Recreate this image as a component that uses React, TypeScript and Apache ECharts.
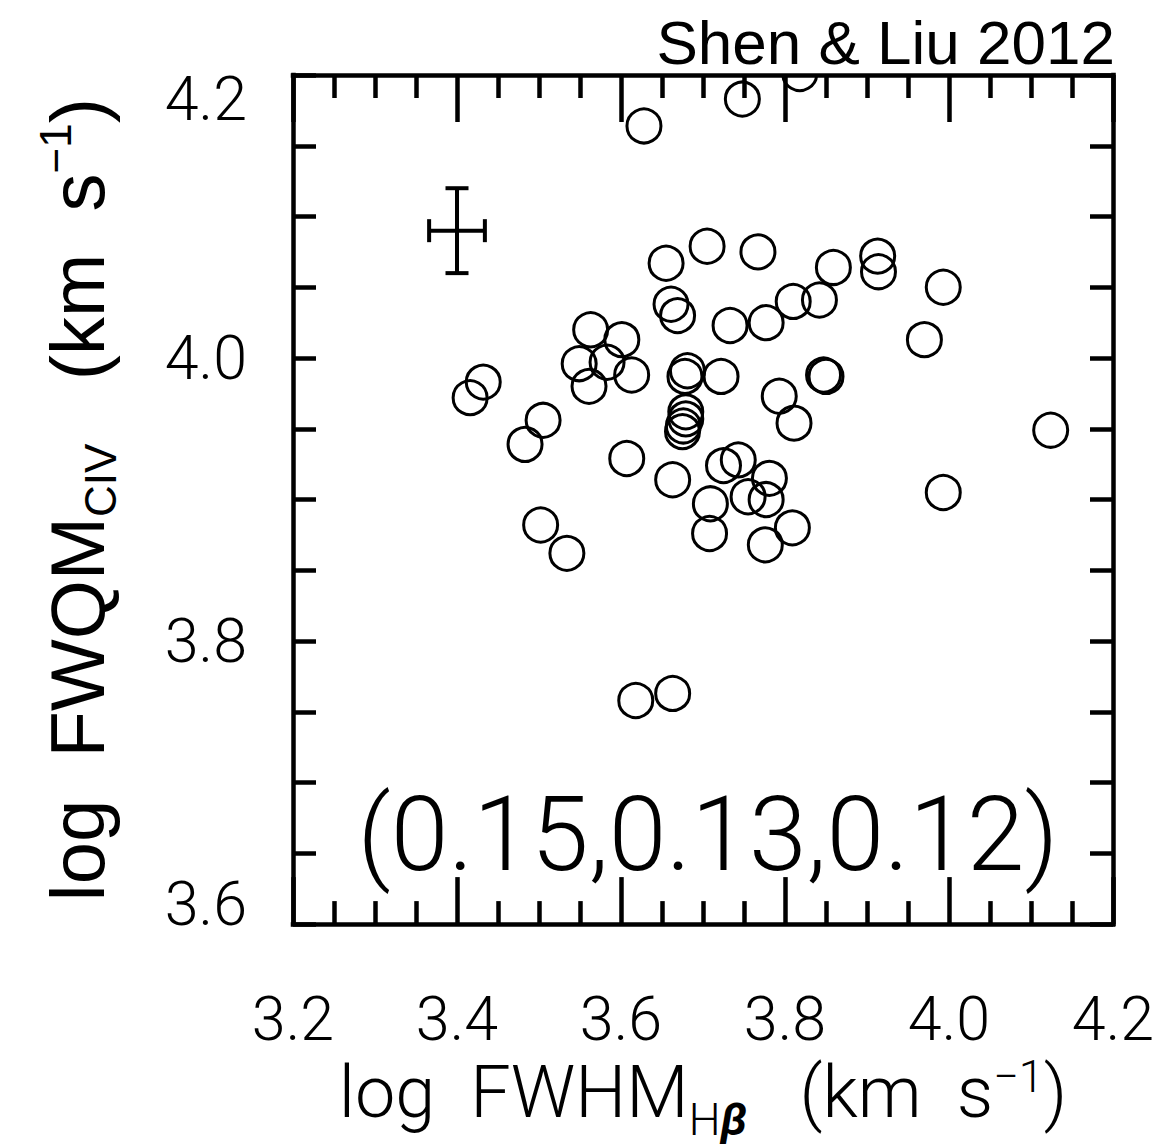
import React, { useEffect, useRef } from 'react';
import * as echarts from 'echarts';

// log FWHM(Hβ) [km/s] for each quasar
const logFwhmHb = [
  3.628, 3.748, 3.818, 3.655, 3.705, 3.767, 3.859, 3.913, 3.914, 3.993,
  3.970, 3.810, 3.842, 3.661, 3.669, 3.733, 3.777, 3.563, 3.601, 3.549,
  3.583, 3.561, 3.613, 3.432, 3.416, 3.505, 3.483, 3.681, 3.678, 3.722,
  3.847, 3.850, 3.793, 3.811, 3.679, 3.679, 3.676, 3.675, 3.607, 3.663,
  3.725, 3.743, 3.781, 3.755, 3.777, 3.709, 3.708, 3.809, 3.776, 3.993,
  4.124, 3.502, 3.534, 3.618, 3.663,
];

// log FWQM(CIV) [km/s] for the same objects
const logFwqmCiv = [
  4.164, 4.183, 4.201, 4.067, 4.079, 4.075, 4.064, 4.072, 4.061, 4.050,
  4.013, 4.040, 4.041, 4.038, 4.030, 4.023, 4.025, 4.020, 4.013, 3.996,
  3.997, 3.980, 3.988, 3.983, 3.972, 3.956, 3.939, 3.991, 3.987, 3.987,
  3.988, 3.987, 3.973, 3.954, 3.962, 3.957, 3.952, 3.948, 3.929, 3.914,
  3.924, 3.928, 3.915, 3.902, 3.900, 3.897, 3.876, 3.880, 3.868, 3.905,
  3.949, 3.882, 3.862, 3.758, 3.763,
];

// typical measurement uncertainty, shown as a cross
const errorBarCenter = [3.4, 4.09];
const errorBarHalf = [0.034, 0.03];

const xRange = [3.2, 4.2];
const yRange = [3.6, 4.2];
const majorStep = 0.2;

const panelTitle = 'Shen & Liu 2012';
const statsNote = '(0.15,0.13,0.12)';

const SANS = '"Liberation Sans", Arial, Helvetica, sans-serif';
const THIN = 'Roboto, "Liberation Sans", sans-serif';
const INK = '#000';

function frameAxis(position: string, majorLen: number, minorLen: number, range: number[]) {
  return {
    type: 'value',
    position,
    min: range[0],
    max: range[1],
    interval: majorStep,
    axisLine: { show: true, onZero: false, lineStyle: { color: INK, width: 4.5, cap: 'square' } },
    axisTick: { show: true, inside: true, length: majorLen, lineStyle: { color: INK, width: 4.5 } },
    minorTick: { show: true, splitNumber: 4, length: minorLen, lineStyle: { color: INK, width: 4.5 } },
    splitLine: { show: false },
    minorSplitLine: { show: false },
    axisLabel: { show: false },
  } as any;
}

export default function App() {
  const ref = useRef<HTMLDivElement>(null);

  useEffect(() => {
    if (!ref.current) return;
    const chart = echarts.init(ref.current, undefined, { renderer: 'svg' });

    const points = logFwhmHb.map((x, i) => [x, logFwqmCiv[i]]);

    const xBottom = frameAxis('bottom', 47, 23, xRange);
    xBottom.axisLabel = {
      show: true,
      showMinLabel: true,
      showMaxLabel: true,
      margin: 64,
      color: INK,
      fontFamily: THIN,
      fontWeight: 300,
      fontSize: 61,
      formatter: (v: number) => v.toFixed(1),
    };
    xBottom.name = '{m|log  FWHM}{sub|H}{subb|β}{m|   (km  s}{sup|−1}{m|)}';
    xBottom.nameLocation = 'middle';
    xBottom.nameGap = 103;
    xBottom.nameTextStyle = {
      color: INK,
      fontFamily: THIN,
      fontWeight: 300,
      fontSize: 72,
      rich: {
        m: { fontFamily: THIN, fontWeight: 300, fontSize: 72, lineHeight: 130, color: INK },
        sub: { fontFamily: THIN, fontWeight: 300, fontSize: 45, padding: [54, 0, 0, 0], color: INK },
        subb: { fontFamily: THIN, fontWeight: 'bold', fontStyle: 'italic', fontSize: 45, padding: [54, 0, 0, 0], color: INK },
        sup: { fontFamily: THIN, fontWeight: 300, fontSize: 45, padding: [0, 0, 32, 0], color: INK },
      },
    };

    const xTop = frameAxis('top', 47, 23, xRange);

    const yLeft = frameAxis('left', 23, 23, yRange);
    yLeft.axisLabel = {
      show: true,
      showMinLabel: true,
      showMaxLabel: true,
      margin: 46,
      color: INK,
      fontFamily: THIN,
      fontWeight: 300,
      fontSize: 61,
      formatter: (v: number) => {
        const s = v.toFixed(1);
        if (Math.abs(v - yRange[1]) < 1e-9) return `{hi|${s}}`;
        if (Math.abs(v - yRange[0]) < 1e-9) return `{lo|${s}}`;
        return `{n|${s}}`;
      },
      rich: {
        n: { fontFamily: THIN, fontWeight: 300, fontSize: 61, color: INK },
        hi: { fontFamily: THIN, fontWeight: 300, fontSize: 61, color: INK, padding: [48, 0, 0, 0] },
        lo: { fontFamily: THIN, fontWeight: 300, fontSize: 61, color: INK, padding: [0, 0, 40, 0] },
      },
    };
    yLeft.name = '{m|log  FWQM}{sub|CIV}{m|   (km  s}{sup|−1}{m|)}';
    yLeft.nameLocation = 'middle';
    yLeft.nameRotate = 90;
    yLeft.nameGap = 151;
    yLeft.nameTextStyle = {
      color: INK,
      fontFamily: SANS,
      fontSize: 76,
      rich: {
        m: { fontFamily: SANS, fontSize: 76, lineHeight: 130, color: INK },
        sub: { fontFamily: SANS, fontSize: 44, padding: [46, 0, 0, 0], color: INK },
        sup: { fontFamily: SANS, fontSize: 44, padding: [0, 0, 44, 0], color: INK },
      },
    };

    const yRight = frameAxis('right', 23, 23, yRange);

    chart.setOption({
      animation: false,
      backgroundColor: '#fff',
      grid: { left: 293, right: 60, top: 75, bottom: 220, containLabel: false },
      xAxis: [xBottom, xTop],
      yAxis: [yLeft, yRight],
      series: [
        {
          type: 'custom',
          coordinateSystem: 'cartesian2d',
          xAxisIndex: 0,
          yAxisIndex: 0,
          clip: true,
          silent: true,
          z: 3,
          data: points,
          renderItem: (_params: any, api: any) => {
            const c = api.coord([api.value(0), api.value(1)]);
            return {
              type: 'circle',
              shape: { cx: c[0], cy: c[1], r: 17 },
              style: { fill: 'none', stroke: INK, lineWidth: 3 },
            };
          },
        },
        {
          type: 'custom',
          coordinateSystem: 'cartesian2d',
          xAxisIndex: 0,
          yAxisIndex: 0,
          silent: true,
          z: 3,
          data: [[errorBarCenter[0], errorBarCenter[1], errorBarHalf[0], errorBarHalf[1]]],
          renderItem: (_params: any, api: any) => {
            const x = api.value(0);
            const y = api.value(1);
            const dx = api.value(2);
            const dy = api.value(3);
            const l = api.coord([x - dx, y]);
            const r = api.coord([x + dx, y]);
            const t = api.coord([x, y + dy]);
            const b = api.coord([x, y - dy]);
            const cap = 11.5;
            const st = { stroke: INK, lineWidth: 4 };
            const seg = (x1: number, y1: number, x2: number, y2: number) => ({
              type: 'line',
              shape: { x1, y1, x2, y2 },
              style: st,
            });
            return {
              type: 'group',
              children: [
                seg(l[0], l[1], r[0], r[1]),
                seg(t[0], t[1], b[0], b[1]),
                seg(l[0], l[1] - cap, l[0], l[1] + cap),
                seg(r[0], r[1] - cap, r[0], r[1] + cap),
                seg(t[0] - cap, t[1], t[0] + cap, t[1]),
                seg(b[0] - cap, b[1], b[0] + cap, b[1]),
              ],
            };
          },
        },
      ],
      graphic: [
        {
          type: 'text',
          x: 1115,
          y: 42,
          silent: true,
          style: {
            text: panelTitle,
            fill: INK,
            fontFamily: SANS,
            fontSize: 62,
            align: 'right',
            verticalAlign: 'middle',
            textAlign: 'right',
            textVerticalAlign: 'middle',
          },
        },
        {
          type: 'text',
          x: 708,
          y: 834,
          silent: true,
          style: {
            text: statsNote,
            fill: INK,
            fontFamily: THIN,
            fontWeight: 300,
            fontSize: 104,
            align: 'center',
            verticalAlign: 'middle',
            textAlign: 'center',
            textVerticalAlign: 'middle',
          },
        },
      ],
    });

    return () => chart.dispose();
  }, []);

  return (
    <div
      ref={ref}
      style={{ position: 'absolute', left: 0, top: 0, width: 1173, height: 1147, background: '#fff' }}
    />
  );
}
